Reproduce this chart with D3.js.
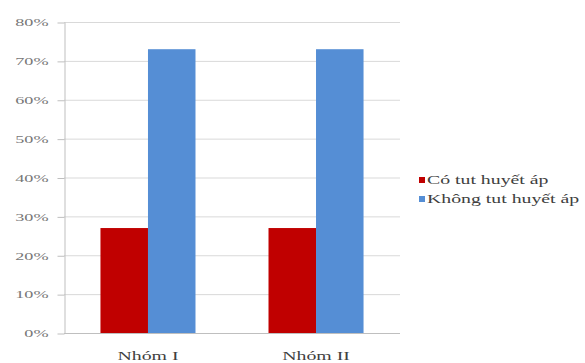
<!DOCTYPE html>
<html>
<head>
<meta charset="utf-8">
<script src="https://cdn.jsdelivr.net/npm/d3@7"></script>
<style>
  html, body { margin: 0; padding: 0; background: #fff; }
</style>
</head>
<body>
<svg id="chart" width="585" height="363"></svg>
<script>
// Groups, series and values (percent)
const groups = ["Nhóm I", "Nhóm II"];
const seriesNames = ["Có tut huyết áp", "Không tut huyết áp"];
const seriesColors = ["#C00000", "#558ED5"];
const coTut = [27, 27];
const khongTut = [73, 73];
const yTicks = [0, 10, 20, 30, 40, 50, 60, 70, 80];

const values = [coTut, khongTut];
const rows = groups.map((g, i) => ({ group: g, vals: values.map(v => v[i]) }));

const FONT = "'Liberation Serif', 'Times New Roman', serif";
const svg = d3.select("#chart");
const plot = { left: 64, right: 400, top: 22, bottom: 333 };
const stretch = 1.65; // wide lettering

const x0 = d3.scaleBand().domain(groups)
  .range([plot.left, plot.right]).paddingInner(0.4345).paddingOuter(0.217);
const x1 = d3.scaleBand().domain(d3.range(seriesNames.length))
  .range([0, x0.bandwidth()]).padding(0);
const y = d3.scaleLinear().domain([0, 80]).range([plot.bottom, plot.top]);

// horizontal gridlines
svg.append("g").selectAll("line").data(yTicks.filter(t => t > 0)).join("line")
  .attr("x1", plot.left).attr("x2", plot.right)
  .attr("y1", d => y(d) + 0.5).attr("y2", d => y(d) + 0.5)
  .attr("stroke", "#D9D9D9").attr("stroke-width", 1);

// value axis
const yAxis = svg.append("g")
  .attr("transform", `translate(${plot.left + 0.5},0)`)
  .call(d3.axisLeft(y).tickValues(yTicks).tickSize(7).tickSizeOuter(0)
    .tickFormat(d => d + "%"))
  .attr("font-family", FONT);
yAxis.select(".domain").attr("stroke", "#BFBFBF");
yAxis.selectAll(".tick line").attr("stroke", "#BFBFBF")
  .attr("transform", "translate(0,0.5)");
yAxis.selectAll(".tick text")
  .attr("x", 0).attr("dy", "0.35em")
  .attr("transform", `translate(-16,0) scale(${stretch},1)`)
  .attr("font-family", FONT)
  .attr("fill", "#777").attr("font-size", 11);

// bars
svg.append("g").selectAll("g").data(rows).join("g")
  .attr("transform", d => `translate(${x0(d.group)},0)`)
  .selectAll("rect").data(d => d.vals.map((v, i) => ({ i, v }))).join("rect")
  .attr("x", d => x1(d.i)).attr("width", x1.bandwidth())
  .attr("y", d => y(d.v)).attr("height", d => y(0) - y(d.v))
  .attr("fill", d => seriesColors[d.i]);

// category axis
svg.append("line")
  .attr("x1", plot.left).attr("x2", plot.right)
  .attr("y1", plot.bottom + 0.5).attr("y2", plot.bottom + 0.5)
  .attr("stroke", "#BFBFBF");
svg.append("g").selectAll("text").data(groups).join("text")
  .attr("transform", d => `translate(${x0(d) + x0.bandwidth() / 2},360) scale(${stretch},1)`)
  .attr("text-anchor", "middle").attr("font-size", 12)
  .attr("font-family", FONT)
  .attr("fill", "#404040").text(d => d);

// legend
const legend = svg.append("g").selectAll("g").data(seriesNames).join("g")
  .attr("transform", (d, i) => `translate(419,${177 + i * 19})`);
legend.append("rect").attr("width", 6).attr("height", 6)
  .attr("fill", (d, i) => seriesColors[i]);
legend.append("text")
  .attr("transform", `translate(8,6.5) scale(${stretch},1)`)
  .attr("font-size", 12).attr("font-family", FONT)
  .attr("fill", "#404040").text(d => d);
</script>
</body>
</html>
